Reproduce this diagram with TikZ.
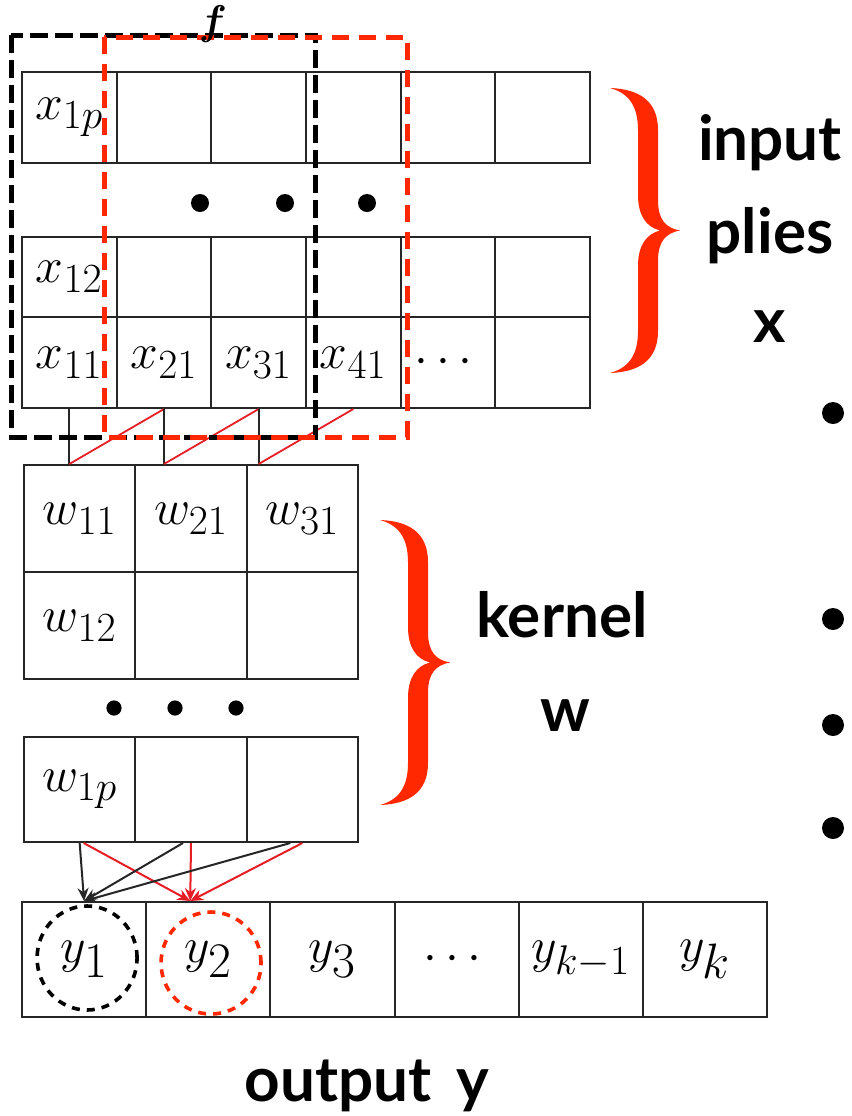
\documentclass[tikz,border=0pt]{standalone}
\usepackage{amsmath}
\usepackage{fontspec}
\newfontfamily\labelfont{Lato}
\usetikzlibrary{arrows.meta}
\definecolor{plyred}{RGB}{255,40,0}
\definecolor{linkred}{RGB}{228,30,36}
\DeclareMathSizes{28}{28}{21}{15}
\DeclareMathSizes{40}{40}{30}{22}

\begin{document}
\begin{tikzpicture}[x=0.5pt,y=-0.5pt,>={Stealth[length=6.5pt,width=5.5pt]},
 cell/.style={draw=black!85,line width=1pt,inner sep=0pt,
  font=\fontsize{28}{30}\selectfont},
 xcell/.style={cell,minimum width=47.33pt,minimum height=45.5pt},
 wcell/.style={cell,minimum width=55.67pt,minimum height=53.5pt},
 ycell/.style={cell,minimum width=62.08pt,minimum height=57.5pt},
 lab/.style={font=\labelfont\bfseries\fontsize{31}{36}\selectfont,
  anchor=base,inner sep=0pt},
 window/.style={line width=2.5pt,dash pattern=on 9pt off 3.5pt},
 ring/.style={line width=1.8pt,dash pattern=on 4pt off 3.5pt},
 plybrace/.pic={\fill[plyred] (0,0) .. controls (28,1) and (48,12) .. (48,42)
  -- (48,112) .. controls (48,132) and (56,140) .. (70,142.5)
  .. controls (56,145) and (48,153) .. (48,173) -- (48,243)
  .. controls (48,273) and (28,284) .. (0,285)
  .. controls (18,280) and (28,268) .. (28,243) -- (28,178)
  .. controls (28,158) and (36,146) .. (50,142.5)
  .. controls (36,139) and (28,127) .. (28,107) -- (28,42)
  .. controls (28,17) and (18,5) .. (0,0) -- cycle;}]
\useasboundingbox (0,0) rectangle (852,1116);

% input plies
\foreach \c/\t in {1/x_{11},2/x_{21},3/x_{31},4/x_{41},5/\cdots,6/{}}{
 \node[xcell] (x-\c-p) at ({22+94.67*(\c-0.5)},117.5) {\ifnum\c=1 $x_{1p}$\fi};
 \node[xcell,minimum height=40pt] (x-\c-2) at ({22+94.67*(\c-0.5)},277) {\ifnum\c=1 $x_{12}$\fi};
 \node[xcell] (x-\c-1) at ({22+94.67*(\c-0.5)},362.5) {$\t$};
}
\foreach \px in {200,285,367} \fill (\px,203) circle (4.5pt);

% kernel
\foreach \c/\t in {1/w_{11},2/w_{21},3/w_{31}}{
 \node[wcell] (w-\c-1) at ({24+111.33*(\c-0.5)},518.5) {$\t$};
 \node[wcell] (w-\c-2) at ({24+111.33*(\c-0.5)},625.5) {\ifnum\c=1 $w_{12}$\fi};
 \node[wcell,minimum height=52.5pt] (w-\c-p) at ({24+111.33*(\c-0.5)},789.5) {\ifnum\c=1 $w_{1p}$\fi};
}
\foreach \px in {114,175,236} \fill (\px,708) circle (3.8pt);

% output
\foreach \c/\t/\s in {1/y_1/40,2/y_2/40,3/y_3/40,4/\cdots/32,5/y_{k-1}/29,6/y_k/34}
 \node[ycell,font=\fontsize{\s}{\s}\selectfont] (y-\c) at ({22+124.17*(\c-0.5)},959.5) {$\t$};
\draw[ring,black] ([xshift=1.5pt,yshift=0.75pt]y-1.center) ellipse [x radius=25pt,y radius=26pt];
\draw[ring,plyred] ([xshift=1.4pt,yshift=-1.75pt]y-2.center) ellipse [x radius=25pt,y radius=25.5pt];

% links
\foreach \c [count=\n from 2] in {1,2,3}{
 \draw[line width=1pt,black!85] (x-\c-1.south) -- (x-\c-1.south |- w-\c-1.north);
 \draw[line width=0.9pt,linkred] (x-\n-1.south) -- (x-\c-1.south |- w-\c-1.north);
}
\foreach \c/\s in {1/2pt,2/0pt,3/0pt}
 \draw[->,line width=1pt,linkred] ([xshift=\s]w-\c-p.south) -- ([xshift=-9pt]y-2.north);
\foreach \c/\s in {1/0pt,2/-4pt,3/-6pt}
 \draw[->,line width=1pt,black!85] ([xshift=\s]w-\c-p.south) -- (y-1.north);

% receptive fields
\draw[window,black] (11,35) rectangle (315,437);
\draw[window,plyred,dash pattern=on 8.5pt off 5pt] (104,37) rectangle (407,437);
\node[font=\fontsize{20}{20}\selectfont,inner sep=0pt] (f) at (213,24) {$\boldsymbol{f}$};

\pic at (610,88) {plybrace};
\pic at (380,520) {plybrace};

\node[lab] (in-a) at (770,160) {input};
\node[lab] (in-b) at (770,253) {plies};
\node[lab] (in-c) at (770,342) {x};
\node[lab] (ker-a) at (562,637) {kernel};
\node[lab] (ker-b) at (565,731) {w};
\node[lab] (out) at (367,1101) {output\hspace{0.4em}y};

\foreach \py in {413,619,725,828} \fill (833,\py) circle (5.5pt);
\end{tikzpicture}
\end{document}
